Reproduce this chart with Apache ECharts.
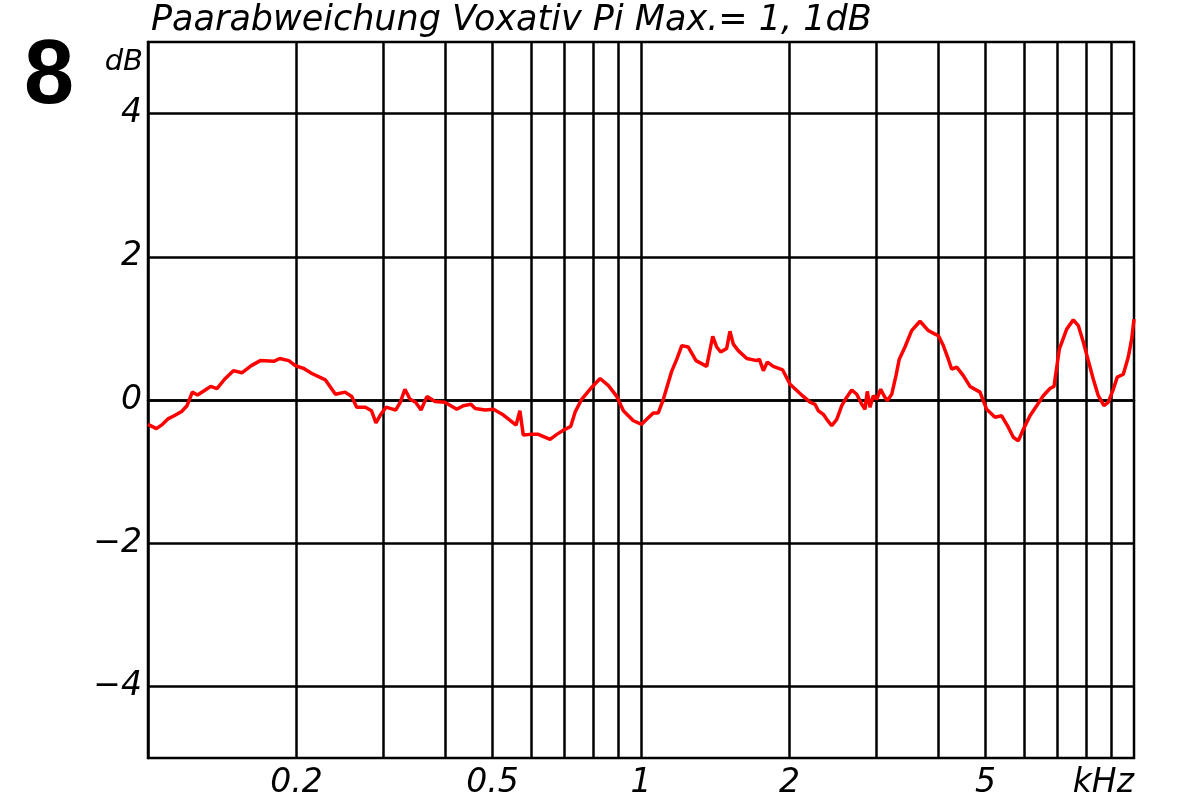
<!DOCTYPE html>
<html>
<head>
<meta charset="utf-8">
<script src="https://cdn.jsdelivr.net/npm/echarts@6/dist/echarts.min.js"></script>
<style>html,body{margin:0;padding:0;background:#fff}#c{width:1200px;height:800px}</style>
</head>
<body>
<div id="c"></div>
<script>
// frequency in Hz
const freqHz = [100,104,107,110,113,117,120,123,126,130,
134,138,143,149,155,162,169,180,185,193,
199,207,215,229,240,251,259,265,276,284,
290,296,304,311,318,325,332,340,349,358,
368,382,400,423,436,452,461,483,502,526,
558,568,577,596,619,654,675,701,720,735,
758,788,826,859,893,921,965,1003,1027,1059,
1084,1110,1154,1182,1210,1247,1293,1359,1398,1424,
1451,1492,1515,1539,1575,1639,1717,1738,1771,1804,
1855,1938,2006,2134,2202,2254,2289,2343,2381,2437,
2495,2554,2614,2676,2739,2804,2847,2877,2914,2959,
3007,3063,3111,3159,3225,3290,3341,3431,3540,3681,
3826,3948,4009,4104,4201,4268,4369,4506,4649,4871,
5025,5224,5390,5559,5691,5825,5963,6152,6347,6546,
6754,6882,7055,7303,7532,7709,7892,8078,8269,8464,
8691,8869,9078,9249,9513,9737,9892,10000];
// pair deviation in dB
const deviationDb = [-0.34,-0.40,-0.34,-0.26,-0.22,-0.16,-0.08,0.11,0.07,0.13,
0.19,0.16,0.29,0.41,0.38,0.48,0.55,0.54,0.58,0.55,
0.48,0.44,0.37,0.28,0.08,0.11,0.05,-0.10,-0.10,-0.15,
-0.32,-0.21,-0.10,-0.12,-0.14,-0.03,0.15,0.01,-0.03,-0.14,
0.05,-0.02,-0.03,-0.13,-0.08,-0.06,-0.12,-0.14,-0.13,-0.21,
-0.35,-0.15,-0.49,-0.48,-0.48,-0.55,-0.48,-0.41,-0.37,-0.17,
0.01,0.15,0.30,0.20,0.05,-0.15,-0.29,-0.34,-0.27,-0.18,
-0.18,0.01,0.40,0.57,0.76,0.74,0.55,0.47,0.89,0.74,
0.67,0.72,0.96,0.78,0.69,0.58,0.55,0.57,0.41,0.53,
0.47,0.42,0.22,0.05,-0.03,-0.06,-0.15,-0.20,-0.27,-0.36,
-0.27,-0.08,0.04,0.14,0.08,-0.06,-0.13,0.12,-0.10,0.06,
0.01,0.15,0.06,-0.01,0.08,0.34,0.57,0.74,0.97,1.10,
0.97,0.92,0.90,0.76,0.57,0.43,0.46,0.34,0.19,0.11,
-0.13,-0.24,-0.22,-0.38,-0.52,-0.57,-0.41,-0.22,-0.08,0.06,
0.16,0.19,0.71,0.99,1.12,1.04,0.81,0.55,0.29,0.06,
-0.08,-0.03,0.15,0.32,0.36,0.60,0.85,1.13];

const xGridHz = [200,300,400,500,600,700,800,900,1000,2000,3000,4000,5000,6000,7000,8000,9000];
const xLabelHz = [200,500,1000,2000,5000,10000];
const yTicks = [-4,-2,0,2,4];
const titleText = 'Paarabweichung Voxativ Pi Max.= 1, 1dB';
const panelNumber = '8';

const chart = echarts.init(document.getElementById('c'), null, {renderer: 'canvas'});
const fontFam = '"DejaVu Sans", sans-serif';
chart.setOption({
  animation: false,
  backgroundColor: '#fff',
  title: [
    {text: panelNumber, left: 19, top: 28,
     textStyle: {fontFamily: '"Liberation Sans", Arial, sans-serif', fontWeight: 'bold', fontSize: 90, color: '#000'}},
    {text: titleText, left: 146, top: -2,
     textStyle: {fontFamily: fontFam, fontStyle: 'italic', fontWeight: 'normal', fontSize: 35, color: '#000'}}
  ],
  grid: {left: 148, right: 66, top: 42, bottom: 42, show: true, borderColor: '#000', borderWidth: 2.5, containLabel: false},
  xAxis: {
    type: 'log', logBase: 10, min: 100, max: 10000,
    axisLine: {show: true, lineStyle: {color: '#000', width: 2.5}},
    axisTick: {show: false, customValues: xGridHz},
    splitLine: {show: true, lineStyle: {color: '#000', width: 2.5}},
    minorSplitLine: {show: false},
    axisLabel: {
      customValues: xLabelHz,
      formatter: v => (Math.abs(v - 10000) < 1 ? 'kHz' : String(v / 1000)),
      fontFamily: fontFam, fontStyle: 'italic', fontSize: 33, color: '#000', margin: 9,
      alignMaxLabel: 'right'
    }
  },
  yAxis: {
    type: 'value', min: -5, max: 5,
    name: 'dB', nameLocation: 'end', nameGap: -20,
    nameTextStyle: {fontFamily: fontFam, fontStyle: 'italic', fontSize: 29, color: '#000', align: 'right', verticalAlign: 'middle', padding: [0, 5, 0, 0]},
    axisLine: {show: true, lineStyle: {color: '#000', width: 2.5}},
    axisTick: {show: false, customValues: yTicks},
    splitLine: {show: true, lineStyle: {color: '#000', width: 2.5}},
    axisLabel: {
      customValues: yTicks,
      formatter: v => (v < 0 ? '\u2212' + Math.abs(v) : String(v)),
      fontFamily: fontFam, fontStyle: 'italic', fontSize: 33, color: '#000', margin: 6
    }
  },
  series: [{
    type: 'line',
    data: freqHz.map((f, i) => [f, deviationDb[i]]),
    showSymbol: false, symbol: 'none',
    lineStyle: {color: '#ff0000', width: 3.5},
    clip: true
  }]
});
</script>
</body>
</html>
